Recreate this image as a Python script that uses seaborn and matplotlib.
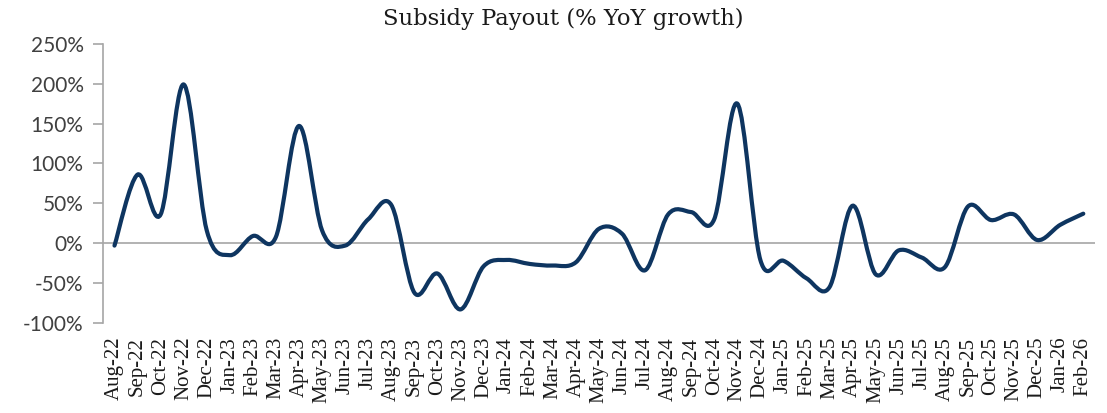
import numpy as np
import pandas as pd
import matplotlib
matplotlib.use("Agg")
import matplotlib.pyplot as plt
from matplotlib.path import Path
from matplotlib.patches import PathPatch
from matplotlib.ticker import FuncFormatter
import seaborn as sns

# ==================================================
# DATA
# ==================================================

months = [
    "Aug-22", "Sep-22", "Oct-22", "Nov-22", "Dec-22",
    "Jan-23", "Feb-23", "Mar-23", "Apr-23", "May-23", "Jun-23",
    "Jul-23", "Aug-23", "Sep-23", "Oct-23", "Nov-23", "Dec-23",
    "Jan-24", "Feb-24", "Mar-24", "Apr-24", "May-24", "Jun-24",
    "Jul-24", "Aug-24", "Sep-24", "Oct-24", "Nov-24", "Dec-24",
    "Jan-25", "Feb-25", "Mar-25", "Apr-25", "May-25", "Jun-25",
    "Jul-25", "Aug-25", "Sep-25", "Oct-25", "Nov-25", "Dec-25",
    "Jan-26", "Feb-26",
]

yoy_growth = [
    -3, 86, 36, 199, 16,
    -15, 9, 8, 147, 16, -3,
    30, 48, -62, -38, -83, -29,
    -21, -26, -28, -24, 18, 12,
    -34, 36, 39, 30, 175, -21,
    -22, -44, -55, 47, -39, -9,
    -18, -30, 46, 29, 36, 4,
    23, 37,
]

y_ticks = [-100, -50, 0, 50, 100, 150, 200, 250]

df = pd.DataFrame({"month": months, "growth": yoy_growth})
df["idx"] = range(len(df))

# ==================================================
# PLOT
# ==================================================

sns.set_style("white")

line_color = "#0E3560"
label_font = ["Liberation Serif", "DejaVu Serif"]
title_font = ["DejaVu Serif"]

fig = plt.figure(figsize=(11.07, 4.13), dpi=100)
ax = fig.add_axes([0.093, 0.218, 0.896, 0.676])

sns.lineplot(data=df, x="idx", y="growth", ax=ax, color=line_color, linewidth=3)

# smooth the line like Excel does (bezier through every point)
line = ax.lines[0]
pts = line.get_xydata()
verts = [tuple(pts[0])]
codes = [Path.MOVETO]
for i in range(len(pts) - 1):
    p0 = pts[i - 1] if i > 0 else pts[i]
    p1 = pts[i]
    p2 = pts[i + 1]
    p3 = pts[i + 2] if i + 2 < len(pts) else pts[i + 1]
    c1 = p1 + (p2 - p0) / 6
    c2 = p2 - (p3 - p1) / 6
    verts += [tuple(c1), tuple(c2), tuple(p2)]
    codes += [Path.CURVE4] * 3
ax.add_patch(PathPatch(Path(verts, codes), facecolor="none",
                       edgecolor=line_color, lw=3, capstyle="round",
                       joinstyle="round", zorder=3))
line.set_visible(False)

ax.axhline(0, color="#A6A6A6", lw=1.2, zorder=1)

ax.set_xlim(-0.5, len(months) - 0.5)
ax.set_ylim(-100, 250)
ax.set_yticks(y_ticks)
ax.yaxis.set_major_formatter(FuncFormatter(lambda v, p: f"{v:.0f}%"))
ax.set_xticks(df["idx"])
ax.set_xticklabels(months, rotation=90, family=label_font, fontsize=15,
                   color="#1A1A1A")

for s in ["top", "right", "bottom"]:
    ax.spines[s].set_visible(False)
ax.spines["left"].set_color("#A6A6A6")
ax.spines["left"].set_linewidth(1.2)

ax.tick_params(axis="y", direction="out", length=7, width=1.2,
               color="#A6A6A6", labelsize=15, labelcolor="#404040", pad=7,
               left=True)
ax.tick_params(axis="x", length=0, pad=10)
for t in ax.get_yticklabels():
    t.set_family(["Lato", "DejaVu Sans"])

ax.set_xlabel("")
ax.set_ylabel("")
fig.text(0.509, 0.955, "Subsidy Payout (% YoY growth)", family=title_font,
         fontsize=16.3, color="#1A1A1A", ha="center", va="center")

fig.savefig("out.png", dpi=100)
